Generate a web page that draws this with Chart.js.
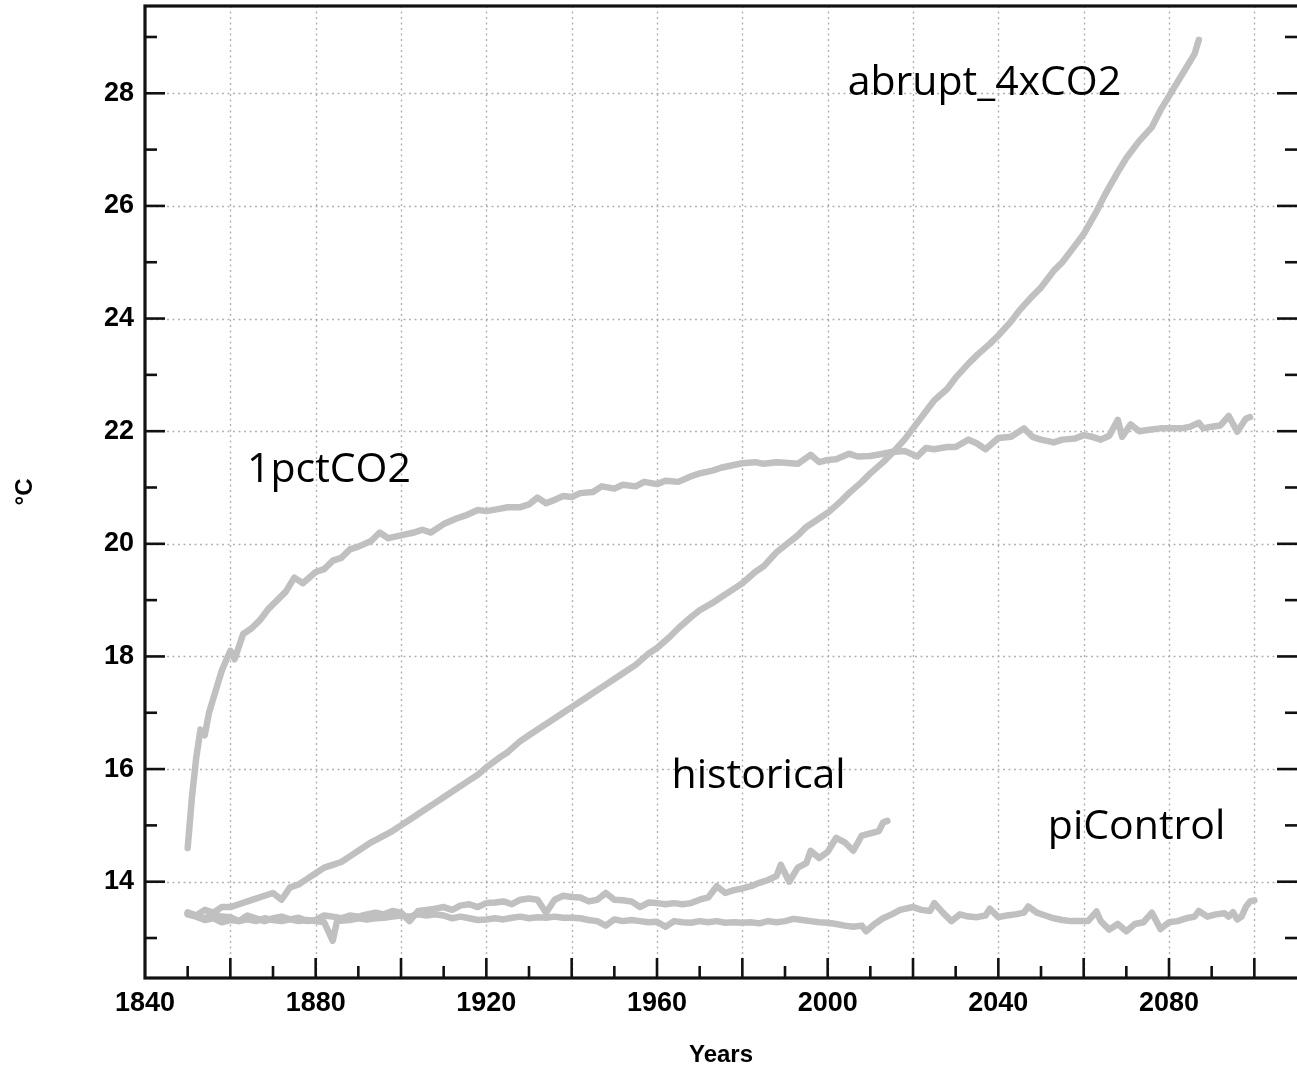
<!DOCTYPE html>
<html>
<head>
<meta charset="utf-8">
<script src="https://cdn.jsdelivr.net/npm/chart.js@4.4.1/dist/chart.umd.min.js"></script>
<style>
  html, body { margin: 0; padding: 0; background: #ffffff; }
  #wrap { width: 1297px; height: 1072px; position: relative; }
</style>
</head>
<body>
<div id="wrap"><canvas id="c" width="1297" height="1072"></canvas></div>
<script>
// ---------------- DATA ----------------
const pctYears = [1850,1851,1852,1853,1854,1855,1856,1858,1860,1861,1863,1865,1867,1869,1871,1873,1875,1877,1880,1882,1884,1886,1888,1890,1893,1895,1897,1900,1903,1905,1907,1910,1913,1915,1918,1920,1923,1925,1928,1930,1932,1934,1936,1938,1940,1942,1945,1947,1950,1952,1955,1957,1960,1962,1965,1968,1970,1973,1975,1978,1980,1983,1985,1988,1990,1993,1996,1998,2000,2002,2005,2007,2010,2013,2015,2018,2021,2023,2025,2028,2030,2033,2035,2037,2040,2043,2046,2048,2050,2053,2055,2058,2060,2062,2064,2066,2068,2069,2071,2073,2075,2078,2080,2083,2085,2087,2088,2090,2092,2094,2096,2098,2099];
const pctValues = [14.6,15.5,16.2,16.7,16.6,17.0,17.25,17.75,18.1,17.95,18.4,18.5,18.65,18.85,19.0,19.15,19.4,19.3,19.5,19.55,19.7,19.75,19.9,19.95,20.05,20.2,20.1,20.15,20.2,20.25,20.2,20.35,20.45,20.5,20.6,20.58,20.62,20.65,20.65,20.7,20.82,20.72,20.78,20.85,20.83,20.9,20.92,21.02,20.98,21.05,21.02,21.1,21.06,21.12,21.1,21.2,21.25,21.3,21.35,21.4,21.43,21.45,21.42,21.45,21.44,21.42,21.58,21.45,21.49,21.5,21.6,21.55,21.56,21.6,21.63,21.65,21.55,21.7,21.68,21.72,21.72,21.85,21.78,21.68,21.88,21.9,22.05,21.9,21.85,21.8,21.85,21.87,21.93,21.9,21.85,21.92,22.2,21.9,22.12,22.0,22.02,22.05,22.05,22.05,22.08,22.15,22.05,22.08,22.1,22.27,21.99,22.22,22.25];

const abruptYears = [1850,1852,1854,1856,1858,1860,1862,1864,1866,1868,1870,1872,1874,1876,1878,1880,1882,1884,1886,1888,1890,1893,1895,1898,1900,1903,1905,1908,1910,1913,1915,1918,1920,1923,1925,1928,1930,1933,1935,1938,1940,1943,1945,1948,1950,1953,1955,1958,1960,1963,1965,1968,1970,1973,1975,1978,1980,1983,1985,1988,1990,1993,1995,1998,2000,2003,2005,2008,2010,2013,2015,2018,2020,2023,2025,2028,2030,2033,2035,2038,2040,2043,2045,2048,2050,2053,2055,2058,2060,2063,2065,2068,2070,2073,2076,2078,2080,2082,2084,2086,2087];
const abruptValues = [13.45,13.4,13.5,13.45,13.55,13.55,13.6,13.65,13.7,13.75,13.8,13.68,13.9,13.95,14.05,14.15,14.25,14.3,14.35,14.45,14.55,14.7,14.78,14.9,15.0,15.15,15.25,15.4,15.5,15.65,15.75,15.9,16.03,16.2,16.3,16.5,16.6,16.75,16.85,17.0,17.1,17.25,17.35,17.5,17.6,17.75,17.85,18.05,18.15,18.35,18.5,18.7,18.82,18.95,19.05,19.2,19.3,19.5,19.6,19.85,19.97,20.15,20.3,20.45,20.55,20.75,20.9,21.1,21.25,21.45,21.6,21.85,22.05,22.35,22.55,22.75,22.95,23.2,23.35,23.55,23.7,23.95,24.15,24.4,24.55,24.85,25.0,25.3,25.5,25.9,26.2,26.6,26.85,27.15,27.4,27.7,27.95,28.2,28.45,28.7,28.95];

const histYears = [1850,1852,1854,1856,1858,1860,1862,1864,1866,1868,1870,1872,1874,1876,1878,1880,1882,1884,1886,1888,1890,1892,1894,1896,1898,1900,1902,1904,1906,1908,1910,1912,1914,1916,1918,1920,1922,1924,1926,1928,1930,1932,1934,1936,1938,1940,1942,1944,1946,1948,1950,1952,1954,1956,1958,1960,1962,1964,1966,1968,1970,1972,1974,1976,1978,1980,1982,1984,1986,1988,1989,1991,1993,1995,1996,1998,2000,2002,2004,2006,2008,2010,2012,2013,2014];
const histValues = [13.45,13.4,13.35,13.42,13.38,13.37,13.3,13.4,13.35,13.3,13.35,13.38,13.33,13.36,13.3,13.32,13.4,13.38,13.35,13.4,13.38,13.42,13.45,13.42,13.48,13.45,13.3,13.48,13.5,13.52,13.55,13.5,13.58,13.6,13.55,13.62,13.63,13.65,13.6,13.68,13.7,13.68,13.45,13.68,13.75,13.73,13.72,13.65,13.68,13.8,13.68,13.67,13.65,13.55,13.63,13.62,13.6,13.62,13.6,13.62,13.68,13.72,13.92,13.8,13.85,13.88,13.92,13.98,14.03,14.1,14.3,14.0,14.25,14.33,14.55,14.42,14.53,14.78,14.7,14.55,14.82,14.86,14.9,15.05,15.08];

const piYears = [1850,1852,1854,1856,1858,1860,1862,1864,1866,1868,1870,1872,1874,1876,1878,1880,1882,1884,1885,1888,1890,1892,1894,1896,1898,1900,1902,1904,1906,1908,1910,1912,1914,1916,1918,1920,1922,1924,1926,1928,1930,1932,1934,1936,1938,1940,1942,1944,1946,1948,1950,1952,1954,1956,1958,1960,1962,1964,1966,1968,1970,1972,1974,1976,1978,1980,1982,1984,1986,1988,1990,1992,1994,1996,1998,2000,2002,2004,2006,2008,2009,2011,2013,2015,2017,2020,2022,2024,2025,2027,2029,2031,2033,2035,2037,2038,2040,2042,2044,2046,2047,2049,2051,2053,2055,2057,2059,2061,2063,2064,2066,2068,2070,2072,2074,2076,2078,2080,2082,2084,2086,2087,2089,2091,2093,2094,2095,2096,2097,2098,2099,2100];
const piValues = [13.42,13.38,13.32,13.35,13.28,13.32,13.3,13.33,13.3,13.35,13.32,13.3,13.33,13.3,13.32,13.3,13.28,12.95,13.3,13.32,13.35,13.33,13.35,13.36,13.38,13.4,13.38,13.42,13.4,13.42,13.4,13.35,13.38,13.35,13.32,13.33,13.35,13.33,13.36,13.38,13.35,13.37,13.36,13.38,13.36,13.36,13.35,13.32,13.3,13.22,13.33,13.3,13.32,13.3,13.28,13.29,13.2,13.3,13.28,13.27,13.3,13.28,13.3,13.27,13.28,13.27,13.28,13.26,13.3,13.28,13.3,13.34,13.32,13.3,13.28,13.27,13.25,13.22,13.2,13.22,13.12,13.25,13.35,13.42,13.5,13.55,13.5,13.48,13.62,13.45,13.3,13.42,13.38,13.37,13.4,13.52,13.37,13.4,13.42,13.45,13.56,13.45,13.4,13.35,13.32,13.3,13.3,13.3,13.47,13.3,13.15,13.25,13.12,13.25,13.28,13.45,13.16,13.28,13.3,13.35,13.38,13.48,13.38,13.42,13.44,13.38,13.46,13.33,13.38,13.55,13.65,13.67];

const seriesNames = ['1pctCO2', 'abrupt_4xCO2', 'historical', 'piControl'];
const seriesYears = [pctYears, abruptYears, histYears, piYears];
const seriesValues = [pctValues, abruptValues, histValues, piValues];

// text labels placed in data space (year, °C at baseline)
const labelTexts = ['abrupt_4xCO2', '1pctCO2', 'historical', 'piControl'];
const labelYears = [2004.7, 1863.9, 1963.4, 2051.6];
const labelTemps = [27.97, 21.10, 15.66, 14.75];

const xTitle = 'Years';
const yTitle = '\u00B0C';

// ---------------- CHART ----------------
const LINE = 'rgb(192,192,192)';
const AXIS = '#111111';

const datasets = seriesNames.map((name, i) => ({
  label: name,
  data: seriesYears[i].map((yr, j) => ({ x: yr, y: seriesValues[i][j] })),
  borderColor: LINE,
  backgroundColor: LINE,
  borderWidth: 6.5,
  pointRadius: 0,
  tension: 0,
  fill: false,
  borderJoinStyle: 'round',
  borderCapStyle: 'round'
}));

const framePlugin = {
  id: 'framePlugin',
  beforeDatasetsDraw(chart) {
    const { ctx, chartArea: a, scales: { x, y } } = chart;
    ctx.save();
    ctx.strokeStyle = 'rgba(165,165,165,0.85)';
    ctx.lineWidth = 1.4;
    ctx.setLineDash([2, 3.5]);
    x.ticks.forEach(t => {
      if (t.value % 20 === 0 && t.value > x.min && t.value < x.max) {
        const px = Math.round(x.getPixelForValue(t.value)) + 0.5;
        ctx.beginPath(); ctx.moveTo(px, a.top); ctx.lineTo(px, a.bottom); ctx.stroke();
      }
    });
    y.ticks.forEach(t => {
      if (t.value % 2 === 0) {
        const py = Math.round(y.getPixelForValue(t.value)) + 0.5;
        ctx.beginPath(); ctx.moveTo(a.left, py); ctx.lineTo(a.right, py); ctx.stroke();
      }
    });
    ctx.restore();
  },
  afterDatasetsDraw(chart) {
    const { ctx, chartArea: a, scales: { x, y } } = chart;
    ctx.save();
    ctx.setLineDash([]);
    ctx.strokeStyle = AXIS;
    // tick marks pointing inward
    ctx.lineWidth = 2.6;
    x.ticks.forEach(t => {
      if (t.value <= x.min || t.value >= x.max) return;
      const px = x.getPixelForValue(t.value);
      const len = (t.value % 20 === 0) ? 20 : 12;
      ctx.beginPath(); ctx.moveTo(px, a.bottom); ctx.lineTo(px, a.bottom - len); ctx.stroke();
    });
    y.ticks.forEach(t => {
      const py = y.getPixelForValue(t.value);
      const len = (t.value % 2 === 0) ? 20 : 12;
      ctx.beginPath(); ctx.moveTo(a.left, py); ctx.lineTo(a.left + len, py); ctx.stroke();
      ctx.beginPath(); ctx.moveTo(a.right, py); ctx.lineTo(a.right - len, py); ctx.stroke();
    });
    // frame
    ctx.lineWidth = 3.2;
    ctx.strokeRect(a.left, a.top, (a.right + 2) - a.left, a.bottom - a.top);
    // series labels
    ctx.fillStyle = '#000000';
    ctx.font = '41px "Open Sans", "Noto Sans", sans-serif';
    ctx.textAlign = 'left';
    ctx.textBaseline = 'alphabetic';
    labelTexts.forEach((txt, i) => {
      ctx.fillText(txt, x.getPixelForValue(labelYears[i]), y.getPixelForValue(labelTemps[i]));
    });
    ctx.restore();
  }
};

new Chart(document.getElementById('c'), {
  type: 'line',
  data: { datasets },
  options: {
    responsive: false,
    animation: false,
    devicePixelRatio: 1,
    layout: { padding: { top: 6, right: 0, left: 0, bottom: 0 } },
    plugins: { legend: { display: false }, tooltip: { enabled: false } },
    scales: {
      x: {
        type: 'linear',
        min: 1840,
        max: 2110,
        grid: { display: false, drawTicks: false },
        border: { display: false },
        ticks: {
          stepSize: 10,
          includeBounds: false,
          autoSkip: false,
          maxRotation: 0,
          minRotation: 0,
          padding: 9,
          color: '#000000',
          font: { family: '"Liberation Sans", Arial, sans-serif', size: 27, weight: 'bold' },
          callback: (v) => ((v - 1840) % 40 === 0 && v <= 2080) ? String(v) : ''
        },
        title: {
          display: true,
          text: xTitle,
          color: '#000000',
          font: { family: '"Liberation Sans", Arial, sans-serif', size: 24, weight: 'bold' },
          padding: { top: 0, bottom: 2 }
        },
        afterFit: (s) => { s.height = 94; s.paddingLeft = 0; s.paddingRight = 0; }
      },
      y: {
        type: 'linear',
        min: 12.29,
        max: 29.55,
        grid: { display: false, drawTicks: false },
        border: { display: false },
        ticks: {
          stepSize: 1,
          includeBounds: false,
          autoSkip: false,
          padding: 11,
          color: '#000000',
          font: { family: '"Liberation Sans", Arial, sans-serif', size: 27, weight: 'bold' },
          callback: (v) => (Math.round(v) % 2 === 0) ? String(Math.round(v)) : ''
        },
        title: {
          display: true,
          text: yTitle,
          color: '#000000',
          font: { family: '"Liberation Sans", Arial, sans-serif', size: 24, weight: 'bold' },
          padding: { top: 11, bottom: 0 }
        },
        afterFit: (s) => { s.width = 145; s.paddingTop = 0; s.paddingBottom = 0; }
      }
    }
  },
  plugins: [framePlugin]
});
</script>
</body>
</html>
